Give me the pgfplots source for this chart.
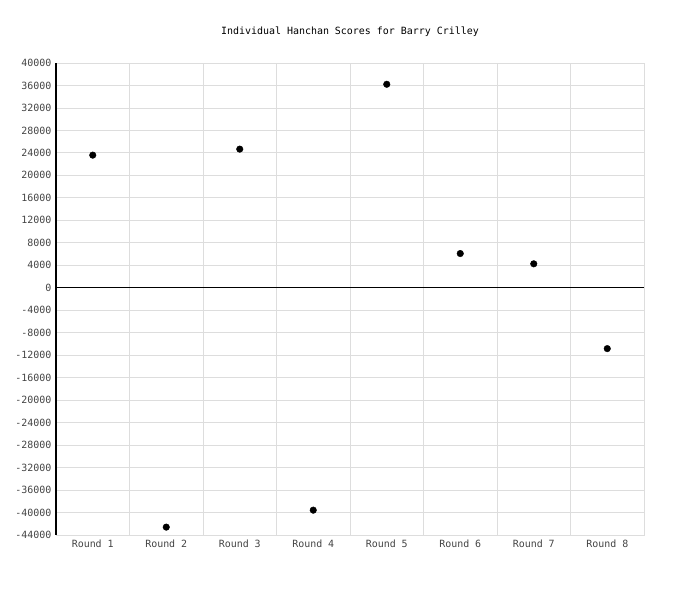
\documentclass[border=0pt]{standalone}
\usepackage{pgfplots}
\pgfplotsset{compat=1.18}
\usepackage{fontspec}
\setmainfont{DejaVu Sans Mono}
\definecolor{gridgray}{HTML}{DDDDDD}
\definecolor{labgray}{HTML}{444444}
\begin{document}
\begin{tikzpicture}[x=1bp,y=1bp]
\useasboundingbox (0,0) rectangle (700,600);
\node[font=\fontsize{10}{12}\selectfont] at (350,568) {Individual Hanchan Scores for Barry Crilley};
\begin{axis}[
    at={(56bp,65bp)}, anchor=south west,
    scale only axis, width=588bp, height=472bp,
    xmin=-0.5, xmax=7.5, ymin=-44000, ymax=40000,
    xtick={0,...,7},
    xticklabels={Round 1,Round 2,Round 3,Round 4,Round 5,Round 6,Round 7,Round 8},
    minor xtick={-0.5,0.5,...,7.5},
    ytick={-44000,-40000,...,40000},
    major x tick style={draw=none},
    minor tick length=0pt, major tick length=0pt,
    xmajorgrids=false, xminorgrids=true, ymajorgrids=true,
    grid style={gridgray, line width=0.8pt},
    minor grid style={gridgray, line width=0.8pt},
    axis line style={gridgray, line width=0.8pt},
    tick label style={font=\fontsize{10}{12}\selectfont, text=labgray},
    yticklabel style={xshift=-1bp},
    xticklabel style={yshift=-1bp},
    /pgf/number format/assume math mode=true,
    /pgf/number format/1000 sep={},
    scaled y ticks=false,
    clip=false,
]
\addplot[only marks, mark=*, mark size=3.3bp, black] coordinates {
(0,23600) (1,-42600) (2,24670) (3,-39580) (4,36210) (5,6090) (6,4260) (7,-10830)
};
\draw[black, line width=1bp] (axis cs:-0.5,0) -- (axis cs:7.5,0);
\draw[black, line width=1.5bp] (axis cs:-0.5,-44000) -- (axis cs:-0.5,40000);
\end{axis}
\end{tikzpicture}
\end{document}
